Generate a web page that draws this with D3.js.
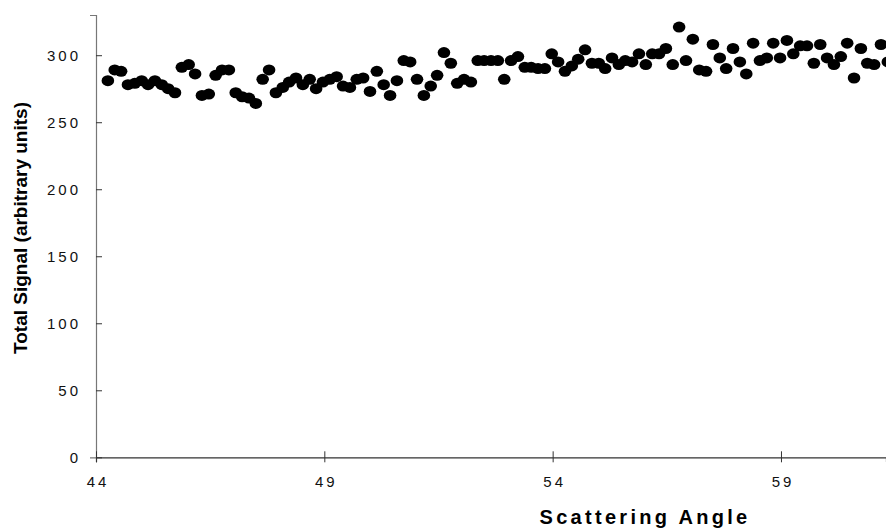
<!DOCTYPE html>
<html>
<head>
<meta charset="utf-8">
<script src="https://cdn.jsdelivr.net/npm/d3@7"></script>
<style>
  body { margin: 0; background: #fff; }
  svg { display: block; font-family: "Liberation Sans", Arial, Helvetica, sans-serif; }
</style>
</head>
<body>
<script>
// scattering angle (deg) of each reading
var angles = [
  44.26, 44.41, 44.55, 44.70, 44.85, 45.00, 45.14, 45.29, 45.44, 45.58,
  45.73, 45.88, 46.03, 46.17, 46.32, 46.47, 46.62, 46.76, 46.91, 47.06,
  47.20, 47.35, 47.50, 47.65, 47.79, 47.94, 48.09, 48.23, 48.38, 48.53,
  48.68, 48.82, 48.97, 49.12, 49.27, 49.41, 49.56, 49.71, 49.85, 50.00,
  50.15, 50.30, 50.44, 50.59, 50.74, 50.88, 51.03, 51.18, 51.33, 51.47,
  51.62, 51.77, 51.91, 52.06, 52.21, 52.36, 52.50, 52.65, 52.80, 52.94,
  53.09, 53.24, 53.39, 53.53, 53.68, 53.83, 53.98, 54.12, 54.27, 54.42,
  54.56, 54.71, 54.86, 55.01, 55.15, 55.30, 55.45, 55.59, 55.74, 55.89,
  56.04, 56.18, 56.33, 56.48, 56.63, 56.77, 56.92, 57.07, 57.21, 57.36,
  57.51, 57.66, 57.80, 57.95, 58.10, 58.24, 58.39, 58.54, 58.69, 58.83,
  58.98, 59.13, 59.27, 59.42, 59.57, 59.72, 59.86, 60.01, 60.16, 60.31,
  60.45, 60.60, 60.75, 60.89, 61.04, 61.19, 61.34
];

// total signal (arbitrary units)
var signal = [
  281, 289, 288, 278, 279, 281, 278, 281, 278, 275,
  272, 291, 293, 286, 270, 271, 285, 289, 289, 272,
  269, 268, 264, 282, 289, 272, 276, 280, 283, 278,
  282, 275, 280, 282, 284, 277, 276, 282, 283, 273,
  288, 278, 270, 281, 296, 295, 282, 270, 277, 285,
  302, 294, 279, 282, 280, 296, 296, 296, 296, 282,
  296, 299, 291, 291, 290, 290, 301, 295, 288, 292,
  297, 304, 294, 294, 290, 298, 293, 296, 295, 301,
  293, 301, 301, 305, 293, 321, 296, 312, 289, 288,
  308, 298, 290, 305, 295, 286, 309, 296, 298, 309,
  298, 311, 301, 307, 307, 294, 308, 298, 293, 299,
  309, 283, 305, 294, 293, 308, 295
];

var xTicks = [44, 49, 54, 59];
var yTicks = [0, 50, 100, 150, 200, 250, 300];

var width = 886, height = 528;

var svg = d3.select("body").append("svg")
    .attr("width", width)
    .attr("height", height);

var x = d3.scaleLinear().domain([44, 61.3]).range([96, 886]);
var y = d3.scaleLinear().domain([0, 330]).range([457.3, 15]);

// y axis
var yAxis = svg.append("g")
    .attr("transform", "translate(96,0)")
    .call(d3.axisLeft(y).tickValues(yTicks).tickSize(6).tickPadding(9));
yAxis.select(".domain").attr("stroke", "#777").attr("stroke-width", 1.2);
yAxis.selectAll(".tick line").attr("x2", 6).attr("stroke", "#333");
yAxis.selectAll(".tick text")
    .attr("fill", "#111")
    .style("font-size", "15px")
    .style("letter-spacing", "3px");

// x axis
var xAxis = svg.append("g")
    .attr("transform", "translate(0," + y(0) + ")")
    .call(d3.axisBottom(x).tickValues(xTicks).tickSize(5).tickPadding(14));
xAxis.select(".domain").attr("stroke", "#333").attr("stroke-width", 1.2);
xAxis.selectAll(".tick line").attr("y1", -6).attr("stroke", "#333");
xAxis.selectAll(".tick text")
    .attr("fill", "#111")
    .attr("dx", "1.5")
    .style("font-size", "15px")
    .style("letter-spacing", "3px");

// titles
svg.append("text")
    .attr("x", 645)
    .attr("y", 524)
    .attr("text-anchor", "middle")
    .style("font-size", "20px")
    .style("font-weight", "bold")
    .style("letter-spacing", "3.3px")
    .text("Scattering Angle");

svg.append("text")
    .attr("transform", "translate(27,228)rotate(-90)")
    .attr("text-anchor", "middle")
    .style("font-size", "19px")
    .style("font-weight", "bold")
    .text("Total Signal (arbitrary units)");

// points
svg.append("g")
  .selectAll("ellipse")
    .data(angles)
  .enter().append("ellipse")
    .attr("cx", function(d) { return x(d); })
    .attr("cy", function(d, i) { return y(signal[i]); })
    .attr("rx", 6.3)
    .attr("ry", 5.5)
    .attr("fill", "#000");
</script>
</body>
</html>
